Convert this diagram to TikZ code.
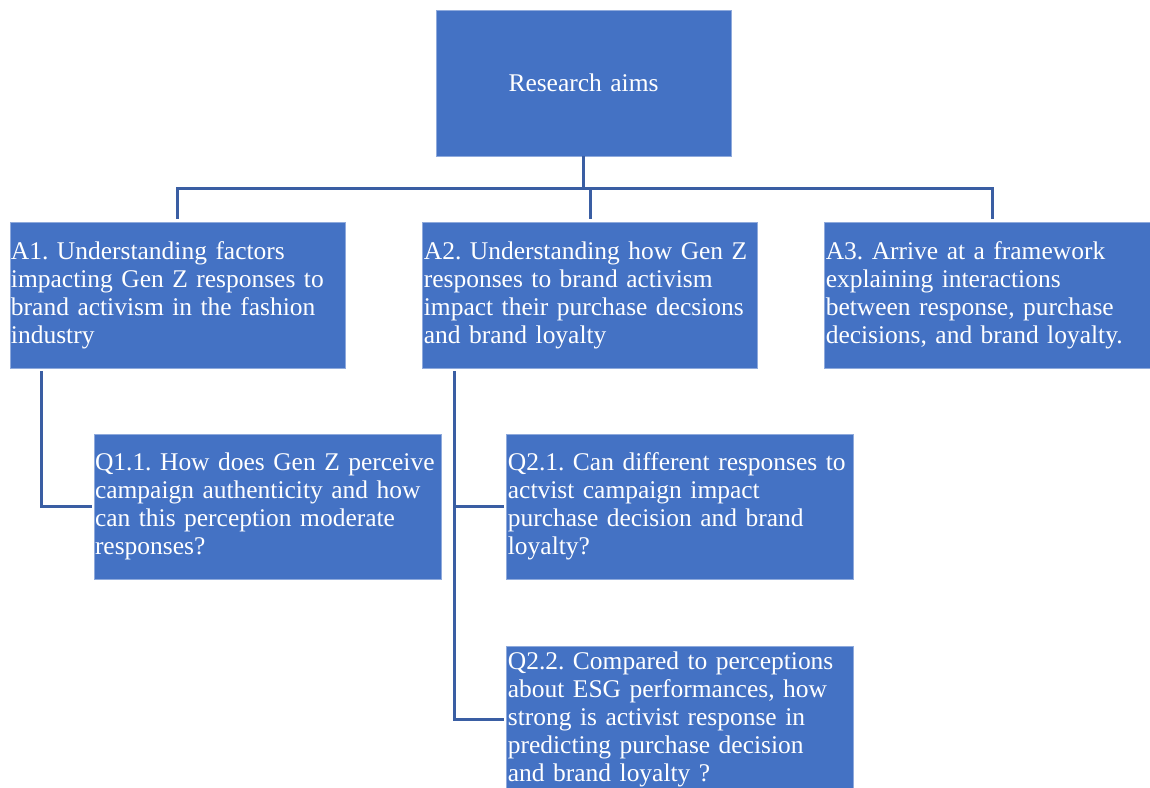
\documentclass[tikz,border=0pt]{standalone}
\usepackage{fontspec}
\setmainfont{Liberation Serif}
\frenchspacing
\usetikzlibrary{positioning,calc}
\definecolor{boxblue}{HTML}{4472C4}
\definecolor{boxedge}{HTML}{8FAADC}
\definecolor{linkblue}{HTML}{3A5EA3}
\newcommand{\boxfont}{\fontsize{14.5}{15.9}\selectfont
  \spaceskip=0.25em plus 0.1em minus 0.1em\hyphenpenalty=10000\exhyphenpenalty=10000}
\tikzset{
  aimbox/.style={rectangle,draw=boxedge,line width=0.5pt,fill=boxblue,text=white,align=left,
    text width=6.66cm,minimum width=6.7cm,minimum height=2.92cm,inner xsep=0.02cm,inner ysep=0pt,
    font=\boxfont},
  qbox/.style={aimbox,text width=6.9cm,minimum width=6.94cm,minimum height=2.9cm},
  rootbox/.style={aimbox,align=center,text width=5.8cm,minimum width=5.9cm},
  link/.style={draw=linkblue,line width=1.5pt}
}
\begin{document}
\begin{tikzpicture}
  \clip (0,0) rectangle (23,-15.76);
  \useasboundingbox (0,0) rectangle (23,-15.76);
    \node[rootbox] (root) at (11.67,-1.66) {Research aims};
    \node[aimbox] (a1) at (3.55,-5.9) {A1. Understanding factors\\impacting Gen Z responses to\\brand activism in the fashion\\industry};
    \node[aimbox,right=1.54cm of a1] (a2) {A2. Understanding how Gen Z\\responses to brand activism\\impact their purchase decsions\\and brand loyalty};
    \node[aimbox,right=1.32cm of a2] (a3) {A3. Arrive at a framework\\explaining interactions\\between response, purchase\\decisions, and brand loyalty.};
    \node[qbox] (q11) at (5.35,-10.13) {Q1.1. How does Gen Z perceive\\campaign authenticity and how\\can this perception moderate\\responses?};
    \node[qbox,right=1.3cm of q11] (q21) {Q2.1. Can different responses to\\actvist campaign impact\\purchase decision and brand\\loyalty?};
    \node[qbox,below=1.34cm of q21] (q22) {Q2.2. Compared to perceptions\\about ESG performances, how\\strong is activist response in\\predicting purchase decision\\and brand loyalty ?};
    % tree lines
    \coordinate (bus) at ($(root.south)+(0,-0.64)$);
    \draw[link] (root.south) -- (bus);
    \draw[link] ([yshift=0.06cm]a1.north) |- (bus) -| ([yshift=0.06cm]a3.north);
    \draw[link] (bus -| a2.north) -- ([yshift=0.06cm]a2.north);
    \coordinate (a1stem) at ([xshift=0.64cm,yshift=-0.06cm]a1.south west);
    \coordinate (a2stem) at ([xshift=0.64cm,yshift=-0.06cm]a2.south west);
    \draw[link] (a1stem) |- ([xshift=-0.04cm]q11.west);
    \draw[link] (a2stem) |- ([xshift=-0.04cm]q21.west);
    \draw[link] (a2stem) |- ([xshift=-0.04cm]q22.west);
  \end{tikzpicture}
\end{document}
